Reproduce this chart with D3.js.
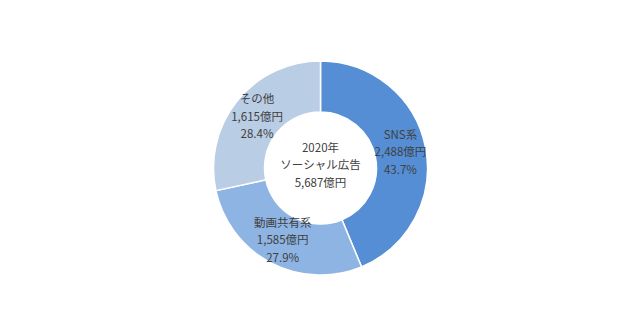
<!DOCTYPE html>
<html lang="ja">
<head>
<meta charset="UTF-8">
<title>ソーシャル広告</title>
<style>
    body { margin: 0; background: #fff; }
    text { font-family: "Noto Sans CJK JP", "Noto Sans", sans-serif; fill: #404040; }
</style>
</head>
<body>
<script src="https://cdn.jsdelivr.net/npm/d3@7"></script>
<script>
    const categories = ["SNS系", "動画共有系", "その他"];
    const amounts = [2488, 1585, 1615];
    const shares = ["43.7%", "27.9%", "28.4%"];
    const colors = ["#558ed5", "#8eb4e3", "#b9cde5"];
    const centerLines = ["2020年", "ソーシャル広告", "5,687億円"];

    const width = 640, height = 336;
    const cx = 320.5, cy = 168;
    const outerR = 107, innerR = 56;

    const svg = d3.select("body").append("svg")
        .attr("width", width)
        .attr("height", height);

    const g = svg.append("g")
        .attr("transform", `translate(${cx},${cy})`);

    const data = categories.map((c, i) => ({ name: c, value: amounts[i], share: shares[i], color: colors[i] }));

    const pie = d3.pie().sort(null).value(d => d.value);
    const arc = d3.arc().innerRadius(innerR).outerRadius(outerR);
    const arcs = pie(data);

    // slices
    g.selectAll(".slice")
        .data(arcs)
        .enter().append("path")
        .attr("class", "slice")
        .attr("d", arc)
        .attr("fill", d => d.data.color)
        .attr("stroke", "#fff")
        .attr("stroke-width", 1.5);

    // slice labels
    const fmt = d3.format(",");
    const labels = g.selectAll(".label")
        .data(arcs)
        .enter().append("text")
        .attr("class", "label")
        .attr("text-anchor", "middle")
        .attr("font-size", 11.5)
        .attr("transform", d => `translate(${arc.centroid(d)})`);

    labels.each(function(d) {
        const lines = [d.data.name, fmt(d.data.value) + "億円", d.data.share];
        d3.select(this).selectAll("tspan")
            .data(lines)
            .enter().append("tspan")
            .attr("x", 0)
            .attr("y", (l, i) => (i - 1) * 17.5)
            .attr("dy", "0.35em")
            .text(l => l);
    });

    // center text
    g.append("text")
        .attr("text-anchor", "middle")
        .attr("font-size", 11.5)
        .selectAll("tspan")
        .data(centerLines)
        .enter().append("tspan")
        .attr("x", 0)
        .attr("y", (l, i) => (i - 1) * 17.5 - 3)
        .attr("dy", "0.35em")
        .text(l => l);
</script>
</body>
</html>
